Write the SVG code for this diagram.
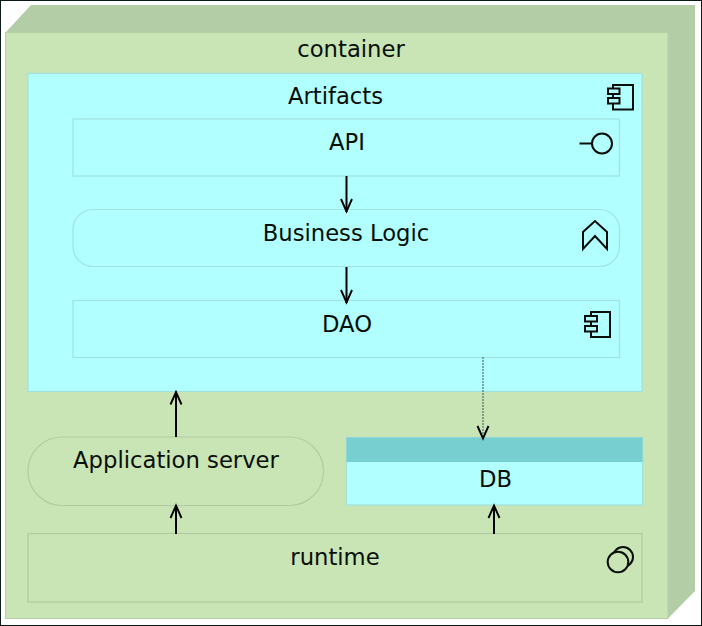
<svg xmlns="http://www.w3.org/2000/svg" width="702" height="626" viewBox="0 0 702 626">
<style>
text{font-family:"DejaVu Sans",sans-serif;font-size:22.7px;fill:#0a0f0a;text-anchor:middle}
.t{fill:#b2ffff;stroke:#a0e2de;stroke-width:1.2}
.g{fill:#c9e4b5;stroke:#b2cca3;stroke-width:1.2}
.i{fill:none;stroke:#0a0f0a;stroke-width:2}
.c{fill:none;stroke:#000;stroke-width:2}
</style>
<defs>
<marker id="a" markerUnits="userSpaceOnUse" markerWidth="18" markerHeight="18" refX="14" refY="7" orient="auto"><path d="M1 1.500L13.500 7L1 12.500" fill="none" stroke="#000" stroke-width="1.900"/></marker>
</defs>
<rect x="0.5" y="0.5" width="701" height="625" fill="#fff" stroke="#0a1a14"/>
<g id="container">
<path d="M5.500 32.500L31 5H695V591L668 618.500V32.500Z" fill="#b3cda6"/>
<rect x="5.500" y="32.500" width="662.500" height="586" fill="#c9e4b5" stroke="#b5cfa6"/>
<text x="351" y="56.700">container</text>
</g>
<g id="artifacts">
<rect class="t" x="28" y="73.500" width="614" height="318"/>
<text x="335.500" y="103.700">Artifacts</text>
<path class="i" d="M613 85H633V109.500H613Z"/>
<path class="i" style="fill:#b2ffff" d="M608 88.500H619.500V94H608ZM608 98H619.500V103.500H608Z"/>
</g>
<g id="api">
<rect class="t" x="73" y="119" width="546.500" height="57"/>
<text x="347" y="149.700">API</text>
<circle class="i" cx="602" cy="143.500" r="10"/>
<path class="i" d="M579.500 143.500H592"/>
</g>
<g id="business-logic">
<rect class="t" x="73" y="209.500" width="546.500" height="57" rx="20"/>
<text x="346" y="240.700">Business Logic</text>
<path class="i" d="M583 249V232L595 221L607 232V249L595 236Z"/>
</g>
<g id="dao">
<rect class="t" x="73" y="300.500" width="546.500" height="57"/>
<text x="347" y="331.700">DAO</text>
<path class="i" d="M591 312H610V337H591Z"/>
<path class="i" style="fill:#b2ffff" d="M585 316H597V321.500H585ZM585 326H597V331.500H585Z"/>
</g>
<g id="application-server">
<rect class="g" x="28" y="437" width="295.500" height="68.500" rx="34"/>
<text x="176" y="467.700">Application server</text>
</g>
<g id="db">
<rect class="t" x="346.500" y="437.500" width="296" height="67.500"/>
<rect x="346.500" y="437.500" width="296" height="24.500" fill="#78cfcf"/>
<text x="495.500" y="486.700">DB</text>
</g>
<g id="runtime">
<rect class="g" x="28" y="533.500" width="614" height="68.500"/>
<text x="335" y="564.700">runtime</text>
<circle class="i" cx="623" cy="557" r="10"/>
<circle class="i" style="fill:#c9e4b5" cx="618" cy="562" r="10.300"/>
</g>
<g id="connectors">
<path class="c" d="M346.500 176V212" marker-end="url(#a)"/>
<path class="c" d="M346.500 267V303" marker-end="url(#a)"/>
<path class="c" d="M176 437V391.500" marker-end="url(#a)"/>
<path class="c" d="M176 534V505" marker-end="url(#a)"/>
<path class="c" d="M494 534V505" marker-end="url(#a)"/>
<path d="M483 357V439" fill="none" stroke="#4f6f6f" stroke-width="1.200" stroke-dasharray="2 1" marker-end="url(#a)"/>
</g>
</svg>
